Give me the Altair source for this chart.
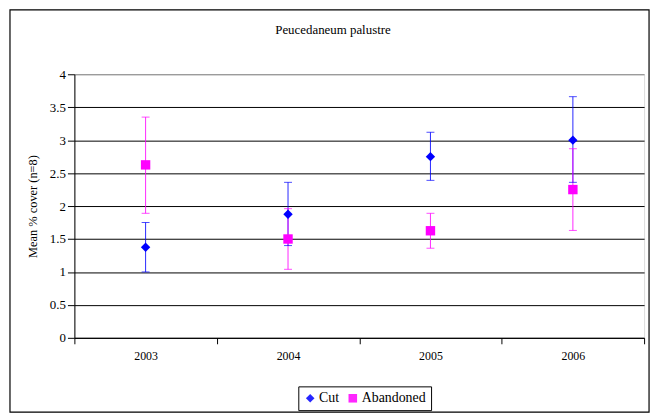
import altair as alt
import pandas as pd

years = ["2003", "2004", "2005", "2006"]
series_names = ["Cut", "Abandoned"]
cut_mean = [1.375, 1.875, 2.75, 3.0]
cut_low = [1.0, 1.40, 2.39, 2.36]
cut_high = [1.75, 2.36, 3.12, 3.66]
ab_mean = [2.625, 1.5, 1.625, 2.25]
ab_low = [1.89, 1.04, 1.36, 1.63]
ab_high = [3.35, 1.96, 1.89, 2.87]
y_ticks = [0, 0.5, 1, 1.5, 2, 2.5, 3, 3.5, 4]
title_text = "Peucedaneum palustre"
y_title = "Mean % cover (n=8)"

rows = []
for i, y in enumerate(years):
    rows.append(dict(year=y, series="Cut", mean=cut_mean[i], low=cut_low[i], high=cut_high[i]))
for i, y in enumerate(years):
    rows.append(dict(year=y, series="Abandoned", mean=ab_mean[i], low=ab_low[i], high=ab_high[i]))
df = pd.DataFrame(rows)

FONT = "Liberation Serif"
colors = ["#0000FF", "#FF00FF"]
shapes = ["diamond", "square"]

color_scale = alt.Scale(domain=series_names, range=colors)
y_scale = alt.Scale(domain=[0, 4], nice=False)
x_scale = alt.Scale(paddingInner=0, paddingOuter=0)

x_axis_def = alt.Axis(title=None, labelAngle=0, tickBand="extent", tickSize=6,
                      labelPadding=7, labelFont=FONT, labelFontSize=12,
                      labelColor="black", domainColor="black", tickColor="black",
                      grid=False)
y_axis_def = alt.Axis(title=y_title, values=y_ticks,
                      format="~g", labelOverlap=False, tickSize=7, labelPadding=2,
                      labelFont=FONT, labelFontSize=13, labelColor="black",
                      titleFont=FONT, titleFontSize=12.5, titleFontWeight="normal",
                      titleColor="black", titlePadding=10,
                      domainColor="black", tickColor="black",
                      grid=True, gridWidth=1,
                      gridColor={"condition": {"test": "datum.value >= 4", "value": "#808080"},
                                 "value": "black"})
legend_def = alt.Legend(title=None, orient="none", legendX=226, legendY=315,
                        direction="horizontal", columns=2,
                        strokeColor="black", padding=5,
                        labelFont=FONT, labelFontSize=14, labelColor="black",
                        symbolSize=75, columnPadding=6, labelOffset=2,
                        symbolStrokeWidth=0)


def xe():
    return alt.X("year:N", sort=years, scale=x_scale, axis=x_axis_def)


def ye(field):
    return alt.Y(field, scale=y_scale, axis=y_axis_def)


def ce():
    return alt.Color("series:N", scale=color_scale, legend=legend_def)


base = alt.Chart(df)

frame = alt.Chart(pd.DataFrame({"a": [0]})).mark_rect(
    fill=None, stroke="black", strokeWidth=1.2, clip=False
).encode(x=alt.value(-65), x2=alt.value(580), y=alt.value(-65), y2=alt.value(341))

title = alt.Chart(pd.DataFrame({"t": [title_text]})).mark_text(
    font=FONT, fontSize=13, color="black", baseline="middle", align="center", clip=False
).encode(text="t:N", x=alt.value(261), y=alt.value(-45))

rules = base.mark_rule(strokeWidth=1, opacity=0.85).encode(
    x=xe(), y=ye("low:Q"), y2="high:Q", color=ce(),
)

caps_low = base.mark_tick(size=8, thickness=1).encode(
    x=xe(), y=ye("low:Q"), color=ce(),
)
caps_high = base.mark_tick(size=8, thickness=1).encode(
    x=xe(), y=ye("high:Q"), color=ce(),
)

points = base.mark_point(filled=True, opacity=1, size=90).encode(
    x=xe(), y=ye("mean:Q"), color=ce(),
    shape=alt.Shape("series:N", scale=alt.Scale(domain=series_names, range=shapes),
                    legend=legend_def),
)

chart = alt.layer(frame, title, rules, caps_low, caps_high, points).properties(
    width=575, height=266,
    autosize=alt.AutoSizeParams(type="none"),
    padding={"left": 67, "top": 65, "right": 10, "bottom": 76},
).configure_view(stroke="#808080", strokeWidth=1).configure(background="white")

chart.save("out.html", embed_options={"renderer": "svg", "actions": False})
